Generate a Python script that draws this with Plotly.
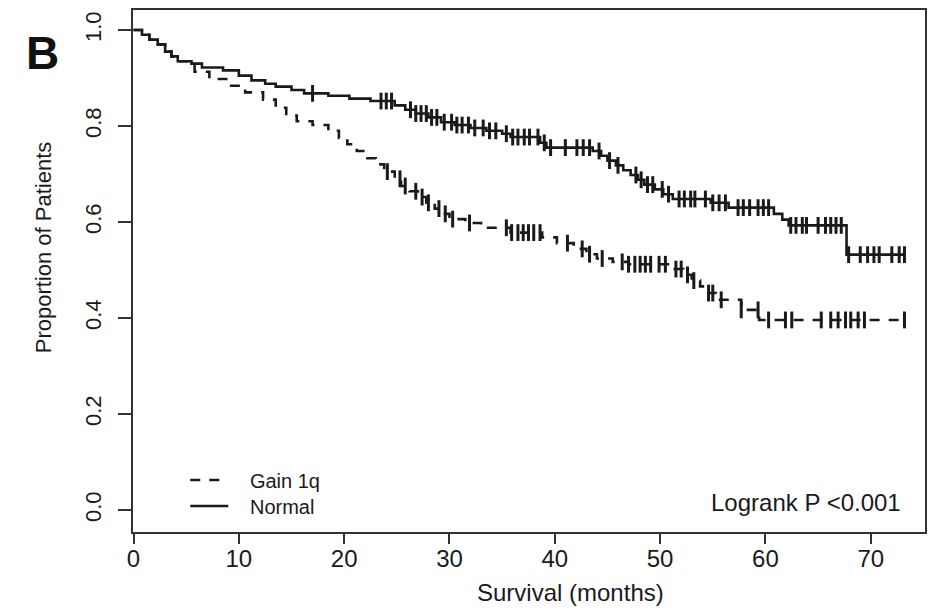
import plotly.graph_objects as go

# ---------------- data ----------------
normal_t = [0, 0.8, 1.5, 2.3, 3.0, 3.6, 4.2, 5.5, 6.5, 8.5, 10.0, 11.2, 12.5, 13.5, 15.0,
            16.2, 18.5, 20.5, 22.5, 24.8, 25.8, 26.8, 28.0, 29.2, 30.5, 32.0, 33.5, 35.0,
            35.8, 38.6, 39.2, 43.6, 44.4, 45.0, 45.8, 46.5, 47.2, 47.9, 48.5, 49.5, 50.3,
            51.2, 54.8, 56.5, 60.8, 61.6, 62.2, 67.7]
normal_s = [1.0, 0.99, 0.98, 0.97, 0.955, 0.945, 0.935, 0.93, 0.922, 0.916, 0.905, 0.895,
            0.888, 0.882, 0.875, 0.868, 0.863, 0.857, 0.852, 0.843, 0.834, 0.826, 0.818,
            0.808, 0.802, 0.796, 0.79, 0.784, 0.777, 0.765, 0.755, 0.748, 0.738, 0.728,
            0.718, 0.708, 0.698, 0.688, 0.678, 0.668, 0.658, 0.648, 0.64, 0.63, 0.617,
            0.605, 0.593, 0.532]
normal_censor = [17.0, 23.5, 24.0, 24.5, 26.3, 26.8, 27.3, 27.8, 28.3, 28.8, 29.5, 30.2,
                 30.7, 31.2, 31.8, 32.4, 33.2, 33.8, 34.4, 35.4, 36.0, 36.5, 37.1, 37.6,
                 38.4, 39.0, 39.6, 41.0, 42.1, 42.7, 43.3, 44.2, 45.2, 46.0, 47.7, 48.2,
                 48.8, 49.3, 50.2, 50.8, 51.8, 52.3, 52.9, 53.3, 54.3, 55.0, 55.6, 56.2,
                 57.4, 57.9, 58.5, 59.3, 59.8, 60.3, 62.4, 62.9, 63.5, 63.9, 65.0, 65.7,
                 66.2, 66.7, 67.2, 67.9, 69.0, 69.7, 70.3, 70.8, 72.0, 72.7, 73.2]
normal_end = 73.2

gain_t = [0, 0.8, 1.5, 2.3, 3.0, 3.6, 4.2, 5.8, 7.2, 8.8, 10.6, 12.3, 13.5, 14.5, 15.5,
          17.0, 18.5, 19.5, 20.3, 21.2, 22.2, 23.0, 23.8, 24.8, 25.4, 26.2, 27.0, 27.8,
          28.6, 29.3, 30.0, 31.5, 33.0, 35.8, 38.8, 40.2, 41.8, 43.0, 44.0, 45.5, 47.0,
          51.0, 52.2, 53.0, 53.8, 54.6, 55.3, 57.7, 59.4]
gain_s = [1.0, 0.99, 0.98, 0.97, 0.955, 0.945, 0.935, 0.913, 0.898, 0.884, 0.87, 0.855,
          0.838, 0.822, 0.81, 0.802, 0.79, 0.775, 0.762, 0.748, 0.733, 0.72, 0.705, 0.69,
          0.675, 0.664, 0.652, 0.64, 0.628, 0.617, 0.606, 0.598, 0.588, 0.578, 0.568,
          0.556, 0.544, 0.533, 0.524, 0.517, 0.512, 0.502, 0.49, 0.478, 0.466, 0.452,
          0.438, 0.417, 0.396]
gain_censor = [24.1, 25.3, 25.8, 26.8, 27.4, 28.0, 29.0, 29.6, 30.3, 31.9, 35.4, 35.9,
               36.5, 37.0, 37.5, 38.0, 38.6, 41.2, 42.6, 43.3, 44.5, 46.4, 47.0, 47.6,
               48.1, 48.6, 49.1, 49.9, 50.5, 51.5, 52.0, 52.6, 53.2, 54.6, 55.0, 55.8,
               57.7, 59.3, 60.3, 61.9, 62.5, 65.3, 66.2, 66.9, 67.6, 68.1, 68.8, 69.4, 73.2]
gain_end = 73.2

x_ticks = [0, 10, 20, 30, 40, 50, 60, 70]
y_ticks = [0.0, 0.2, 0.4, 0.6, 0.8, 1.0]
y_ticktext = ["0.0", "0.2", "0.4", "0.6", "0.8", "1.0"]


def surv_at(ts, ss, c):
    v = ss[0]
    for t, s in zip(ts, ss):
        if t <= c:
            v = s
    return v


FONT = "Liberation Sans, Arial, Helvetica, sans-serif"
INK = "#1a1a1a"
LW = 2.6

fig = go.Figure()

# Gain 1q (dashed)
fig.add_trace(go.Scatter(
    x=gain_t + [gain_end], y=gain_s + [gain_s[-1]], mode="lines", line_shape="hv",
    line=dict(color=INK, width=LW, dash="10px,9px"),
    name="\u00a0\u00a0\u00a0Gain 1q", legend="legend"))
# Normal (solid)
fig.add_trace(go.Scatter(
    x=normal_t + [normal_end], y=normal_s + [normal_s[-1]], mode="lines", line_shape="hv",
    line=dict(color=INK, width=LW), name="\u00a0\u00a0\u00a0Normal", legend="legend2"))

# censor marks
fig.add_trace(go.Scatter(
    x=gain_censor, y=[surv_at(gain_t, gain_s, c) for c in gain_censor], mode="markers",
    marker=dict(symbol="line-ns", size=12, line=dict(color=INK, width=3)),
    showlegend=False, hoverinfo="skip"))
fig.add_trace(go.Scatter(
    x=normal_censor, y=[surv_at(normal_t, normal_s, c) for c in normal_censor], mode="markers",
    marker=dict(symbol="line-ns", size=12, line=dict(color=INK, width=3)),
    showlegend=False, hoverinfo="skip"))

leg_common = dict(x=0.066, xanchor="left", yanchor="middle",
                  bgcolor="rgba(0,0,0,0)", borderwidth=0, itemwidth=38,
                  font=dict(size=20, family=FONT, color=INK))

fig.update_layout(
    width=931, height=608,
    margin=dict(l=133, r=4, t=10, b=76),
    paper_bgcolor="white", plot_bgcolor="white",
    font=dict(family=FONT, size=24, color=INK),
    showlegend=True,
    legend=dict(y=0.0996, **leg_common),
    legend2=dict(y=0.0498, **leg_common),
)

fig.update_xaxes(
    range=[-0.05, 75.15], tickvals=x_ticks, ticks="outside", ticklen=10, tickwidth=2,
    tickcolor="#333", showline=True, linecolor="#333", linewidth=2, mirror=True,
    showgrid=False, zeroline=False, ticklabelstandoff=-6,
    tickfont=dict(size=24, family=FONT, color=INK))
fig.update_yaxes(
    range=[-0.0458, 1.0417], tickvals=y_ticks, ticktext=y_ticktext, ticks="outside",
    ticklen=13, tickwidth=2, tickcolor="#333", showline=True, linecolor="#333",
    linewidth=2, mirror=True, showgrid=False, zeroline=False, tickangle=-90,
    ticklabelstandoff=8, tickfont=dict(size=22, family=FONT, color=INK))

fig.add_annotation(text="<b>B</b>", xref="paper", yref="paper", x=-0.1146, y=0.9176,
                   showarrow=False, font=dict(size=46, family=FONT, color="#111"),
                   xanchor="center", yanchor="middle")
fig.add_annotation(text="Proportion of Patients", xref="paper", yref="paper",
                   x=-0.112, y=0.546, textangle=-90, showarrow=False,
                   font=dict(size=22, family=FONT, color=INK), xanchor="center", yanchor="middle")
fig.add_annotation(text="Survival (months)", xref="paper", yref="paper",
                   x=0.552, y=-0.115, showarrow=False,
                   font=dict(size=24, family=FONT, color=INK), xanchor="center", yanchor="middle")
fig.add_annotation(text="Logrank P &lt;0.001", xref="paper", yref="paper",
                   x=0.972, y=0.0556, showarrow=False,
                   font=dict(size=24, family=FONT, color=INK), xanchor="right", yanchor="middle")

fig.write_html("out.html")
